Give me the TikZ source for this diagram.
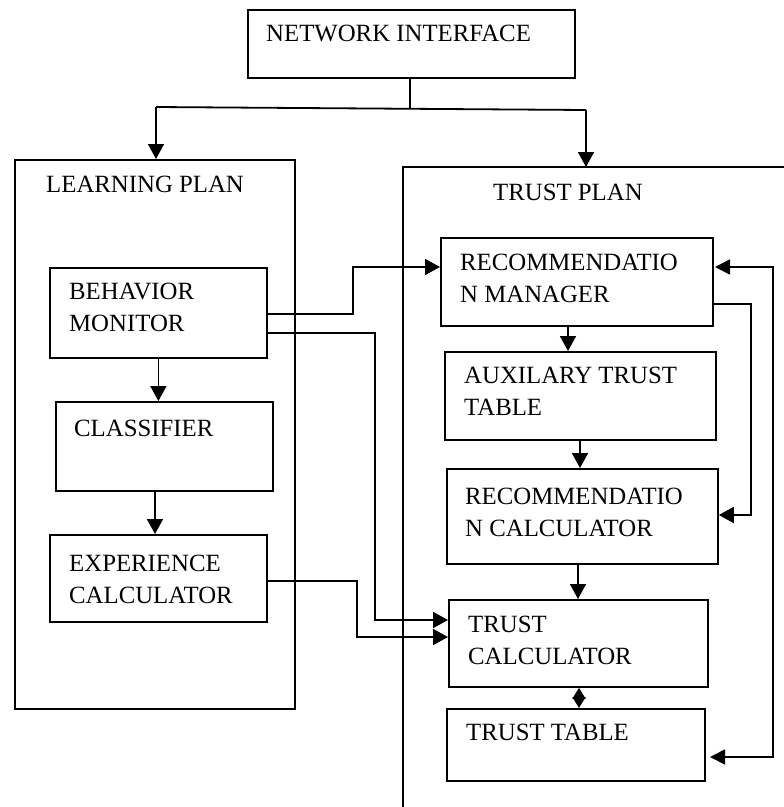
\documentclass[tikz,border=0pt]{standalone}
\usepackage{fontspec}
\setmainfont{Liberation Serif}
\usetikzlibrary{arrows.meta}
\begin{document}
\begin{tikzpicture}[x=1pt,y=-1pt,
  ln/.style={line width=1.8pt},
  arr/.style={ln,-{Triangle[length=15pt,width=16pt]}},
  dbl/.style={ln,{Triangle[length=11pt,width=13pt]}-{Triangle[length=11pt,width=13pt]}},
  loop/.style={ln,{Triangle[length=15pt,width=15pt]}-{Triangle[length=15pt,width=15pt]}},
  blk/.style={draw,ln,anchor=north west,inner sep=0pt},
  lbl/.style={anchor=west,inner sep=0pt,align=left,font=\fontsize{24.8}{32}\selectfont}]
\useasboundingbox (0,0) rectangle (784,807);
% boxes
\node[blk,minimum width=327pt,minimum height=68pt] (ni) at (247,9) {};
\node[blk,minimum width=280pt,minimum height=549pt] (lp) at (14,159) {};
\node[blk,minimum width=217pt,minimum height=90pt] (bm) at (49,267) {};
\node[blk,minimum width=217pt,minimum height=89pt] (cl) at (55,401) {};
\node[blk,minimum width=217pt,minimum height=87pt] (ec) at (49,534) {};
\node[blk,minimum width=272pt,minimum height=88pt] (rm) at (440,237) {};
\node[blk,minimum width=271pt,minimum height=88pt] (aux) at (444,351) {};
\node[blk,minimum width=271pt,minimum height=95pt] (rc) at (446,468) {};
\node[blk,minimum width=259pt,minimum height=87pt] (tc) at (448,599) {};
\node[blk,minimum width=258pt,minimum height=72pt] (tt) at (446,708) {};
% trust plan frame (cut by the picture's edges)
\coordinate (tpl) at (403,167);
\coordinate (tpr) at (784,167);
\coordinate (tpb) at (403,807);
\draw[ln] (tpr) -- (tpl) -- (tpb);
% labels
\node[lbl] (tni) at (266,33) {NETWORK INTERFACE};
\node[lbl] (tlp) at (46,184) {LEARNING PLAN};
\node[lbl] (tbm) at (69,307.5) {BEHAVIOR\\MONITOR};
\node[lbl] (tcl) at (74,428) {CLASSIFIER};
\node[lbl] (tec) at (69,579) {EXPERIENCE\\CALCULATOR};
\node[lbl] (ttp) at (493,192) {TRUST PLAN};
\node[lbl] (trm) at (460,278.5) {RECOMMENDATIO\\N MANAGER};
\node[lbl] (taux) at (464,391) {AUXILARY TRUST\\TABLE};
\node[lbl] (trc) at (465,512.5) {RECOMMENDATIO\\N CALCULATOR};
\node[lbl] (ttc) at (468,640) {TRUST\\CALCULATOR};
\node[lbl] (ttt) at (466,732) {TRUST TABLE};
% network interface split
\coordinate (jn) at (410,108.8);
\coordinate (jl) at (156,107);
\coordinate (jr) at (586,110);
\draw[ln] (ni.south -| jn) -- (jn);
\draw[ln] (jl) -- (jr);
\draw[arr] (jl) -- (lp.north -| jl);
\draw[arr] (jr) -- (tpl -| jr);
% learning plan chain
\draw[arr] (bm.south) -- (cl.north -| bm.south);
\draw[arr] (cl.south -| 155,0) -- (ec.north -| 155,0);
% cross connections
\draw[arr] (bm.east |- 0,314) -- (353,314) -- (353,267) -- (rm.west |- 0,267);
\draw[arr] (bm.east |- 0,333) -- (375,333) -- (375,620) -- (tc.west |- 0,620);
\draw[arr] (ec.east |- 0,581) -- (357,581) -- (357,637) -- (tc.west |- 0,637);
% trust plan chain
\draw[arr] (rm.south -| 568,0) -- (aux.north -| 568,0);
\draw[arr] (aux.south -| 580,0) -- (rc.north -| 580,0);
\draw[arr] (rc.south -| 578,0) -- (tc.north -| 578,0);
\draw[dbl] (tc.south -| 579,0) -- (tt.north -| 579,0);
% feedback loops
\draw[arr] (rm.east |- 0,304) -- (751,304) -- (751,515) -- (rc.east |- 0,515);
\coordinate (rmin) at (715,267);
\coordinate (ttin) at (710,757);
\draw[loop] (rmin) -- (773,267) -- (773,757) -- (ttin);
\end{tikzpicture}
\end{document}
